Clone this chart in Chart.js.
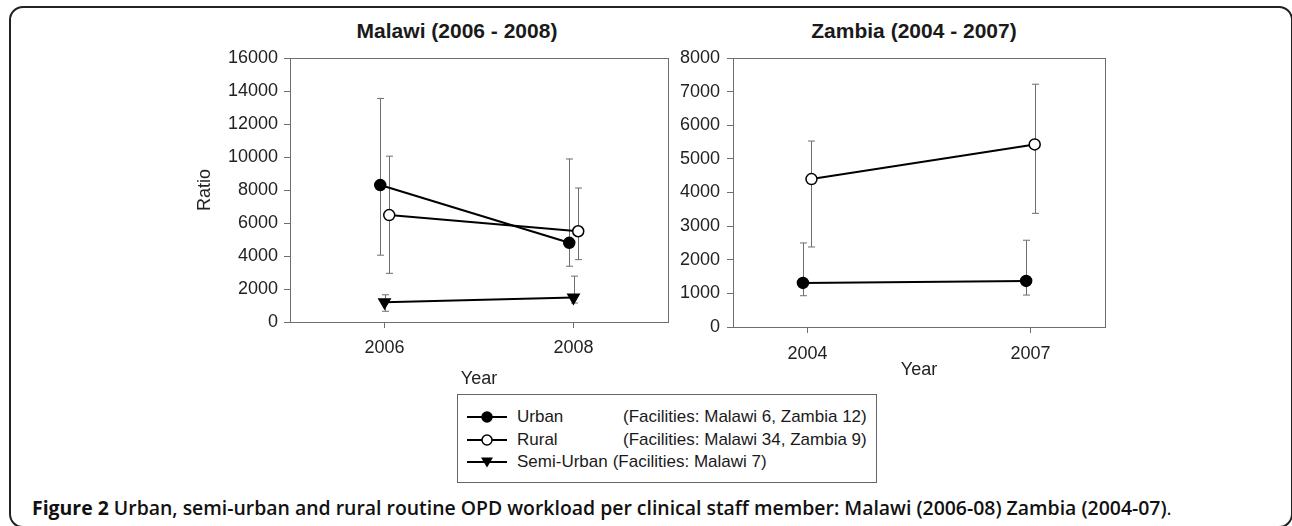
<!DOCTYPE html>
<html>
<head>
<meta charset="utf-8">
<title>OPD workload per clinical staff member</title>
<script src="https://cdn.jsdelivr.net/npm/chart.js@4.4.1/dist/chart.umd.min.js"></script>
<style>
  body {
    margin: 0;
    width: 1292px;
    height: 526px;
    overflow: hidden;
    position: relative;
    background: #fff;
    font-family: "Liberation Sans", Arial, sans-serif;
    color: #1a1a1a;
  }
  .frame {
    position: absolute;
    left: 9px;
    top: 6px;
    width: 1284px;
    height: 522px;
    border: 2px solid #222;
    border-radius: 14px;
    box-sizing: border-box;
  }
  .panel-title {
    position: absolute;
    top: 19px;
    width: 320px;
    text-align: center;
    font-weight: bold;
    font-size: 21px;
    line-height: 24px;
  }
  canvas { position: absolute; top: 0; }
  #malawiChart { left: 190px; }
  #zambiaChart { left: 670px; }
  .legend {
    position: absolute;
    left: 457px;
    top: 394px;
    width: 420px;
    height: 89px;
    border: 1px solid #666;
    box-sizing: border-box;
    padding-top: 11px;
    font-size: 17px;
  }
  .legend .row {
    display: flex;
    align-items: center;
    height: 22.5px;
    padding-left: 9px;
    white-space: nowrap;
  }
  .legend svg { margin-right: 10px; }
  .legend .name { display: inline-block; }
  .legend .name.fixed { width: 106px; }
  .legend .name.flow { margin-right: 5px; }
  .caption {
    position: absolute;
    left: 32px;
    top: 496px;
    font-family: "Open Sans", sans-serif;
    font-size: 17px;
    font-weight: 600;
    line-height: 24px;
    white-space: nowrap;
    color: #111;
  }
  .caption b { font-weight: 700; }
  .caption .dot { font-weight: 400; }
</style>
</head>
<body>
<div class="frame"></div>
<div class="panel-title" style="left:297px">Malawi (2006 - 2008)</div>
<div class="panel-title" style="left:754px">Zambia (2004 - 2007)</div>
<canvas id="malawiChart" width="578" height="390"></canvas>
<canvas id="zambiaChart" width="498" height="381"></canvas>
<div class="legend" id="legend"></div>
<div class="caption" id="caption"><b>Figure 2</b> Urban, semi-urban and rural routine OPD workload per clinical staff member: Malawi (2006-08) Zambia (2004-07)<span class="dot">.</span></div>

<script>
// series names and facility counts
const seriesNames = ["Urban", "Rural", "Semi-Urban"];
const facilityNotes = [
  "(Facilities: Malawi 6, Zambia 12)",
  "(Facilities: Malawi 34, Zambia 9)",
  "(Facilities: Malawi 7)"
];

// Malawi (2006 - 2008)
const malawiYears = [2006, 2008];
const malawiUrban = [8300, 4800];
const malawiUrbanHigh = [13550, 9880];
const malawiUrbanLow = [4050, 3380];
const malawiRural = [6480, 5500];
const malawiRuralHigh = [10050, 8120];
const malawiRuralLow = [2950, 3780];
const malawiSemi = [1200, 1480];
const malawiSemiHigh = [1650, 2780];
const malawiSemiLow = [650, 1150];

// Zambia (2004 - 2007)
const zambiaYears = [2004, 2007];
const zambiaUrban = [1310, 1370];
const zambiaUrbanHigh = [2500, 2580];
const zambiaUrbanLow = [930, 950];
const zambiaRural = [4400, 5430];
const zambiaRuralHigh = [5530, 7220];
const zambiaRuralLow = [2380, 3380];

Chart.defaults.font.family = '"Liberation Sans", Arial, sans-serif';
Chart.defaults.font.size = 18;
Chart.defaults.color = "#222";

const axisGrey = "#6e6e6e";

// whiskers behind the markers, plus the closed plot box
const errorBars = {
  id: "errorBars",
  beforeDatasetsDraw(chart) {
    const { ctx, chartArea } = chart;
    const yScale = chart.scales.y;
    ctx.save();
    ctx.strokeStyle = axisGrey;
    ctx.lineWidth = 1;
    ctx.strokeRect(chartArea.left + 0.5, chartArea.top + 0.5,
      chartArea.right - chartArea.left, chartArea.bottom - chartArea.top);
    chart.data.datasets.forEach((ds, i) => {
      const meta = chart.getDatasetMeta(i);
      meta.data.forEach((pt, j) => {
        const top = yScale.getPixelForValue(ds.errHigh[j]);
        const bottom = yScale.getPixelForValue(ds.errLow[j]);
        const x = Math.round(pt.x) + 0.5;
        ctx.beginPath();
        ctx.moveTo(x, top);
        ctx.lineTo(x, bottom);
        ctx.moveTo(x - 3.5, top);
        ctx.lineTo(x + 3.5, top);
        ctx.moveTo(x - 3.5, bottom);
        ctx.lineTo(x + 3.5, bottom);
        ctx.stroke();
      });
    });
    ctx.restore();
  }
};

const makeSeries = (years, values, high, low, shift, style) => ({
  data: years.map((yr, i) => ({ x: yr + shift, y: values[i] })),
  errHigh: high,
  errLow: low,
  borderColor: "#000",
  borderWidth: 2,
  tension: 0,
  pointRadius: style.radius,
  pointBorderWidth: 1.5,
  pointBorderColor: "#000",
  pointBackgroundColor: style.fill,
  pointStyle: style.shape,
  pointRotation: style.rotation || 0
});

const makeOptions = (years, xMin, xMax, yMax, yStep, opts) => ({
  responsive: false,
  animation: false,
  devicePixelRatio: 1,
  layout: { padding: { top: 58, right: opts.rightPad, left: 0, bottom: 0 } },
  plugins: { legend: { display: false }, tooltip: { enabled: false } },
  scales: {
    x: {
      type: "linear",
      min: xMin,
      max: xMax,
      afterBuildTicks: (scale) => {
        scale.ticks = years.map((v) => ({ value: v }));
      },
      afterFit: (scale) => { scale.height = opts.xHeight; },
      ticks: { padding: opts.xTickPad, callback: (v) => String(v), maxRotation: 0 },
      grid: { drawOnChartArea: false, tickLength: 6, color: axisGrey },
      border: { color: axisGrey },
      title: { display: true, text: "Year", padding: 0, font: { size: 18 } }
    },
    y: {
      min: 0,
      max: yMax,
      afterFit: (scale) => { scale.width = opts.yWidth; },
      ticks: { stepSize: yStep, padding: opts.yTickPad, callback: (v) => String(v) },
      grid: { drawOnChartArea: false, tickLength: 6, color: axisGrey },
      border: { color: axisGrey },
      title: {
        display: !!opts.yTitle,
        text: opts.yTitle || "",
        padding: { top: 4, bottom: 0 },
        font: { size: 18 }
      }
    }
  }
});

const filled = { fill: "#000", shape: "circle", radius: 5.5 };
const open = { fill: "#fff", shape: "circle", radius: 5.5 };
const triangleDown = { fill: "#000", shape: "triangle", radius: 6.5, rotation: 180 };

new Chart(document.getElementById("malawiChart"), {
  type: "line",
  data: {
    datasets: [
      makeSeries(malawiYears, malawiUrban, malawiUrbanHigh, malawiUrbanLow, -0.045, filled),
      makeSeries(malawiYears, malawiRural, malawiRuralHigh, malawiRuralLow, 0.05, open),
      makeSeries(malawiYears, malawiSemi, malawiSemiHigh, malawiSemiLow, 0, triangleDown)
    ]
  },
  options: makeOptions(malawiYears, 2005, 2009, 16000, 2000, {
    rightPad: 100, yWidth: 100, xHeight: 68, xTickPad: 9, yTickPad: 6, yTitle: "Ratio"
  }),
  plugins: [errorBars]
});

new Chart(document.getElementById("zambiaChart"), {
  type: "line",
  data: {
    datasets: [
      makeSeries(zambiaYears, zambiaUrban, zambiaUrbanHigh, zambiaUrbanLow, -0.06, filled),
      makeSeries(zambiaYears, zambiaRural, zambiaRuralHigh, zambiaRuralLow, 0.055, open)
    ]
  },
  options: makeOptions(zambiaYears, 2003, 2008, 8000, 1000, {
    rightPad: 63, yWidth: 63, xHeight: 54, xTickPad: 10, yTickPad: 7
  }),
  plugins: [errorBars]
});

// legend built from the series names
const legendIcons = [
  '<circle cx="20" cy="8" r="5" fill="#000" stroke="#000" stroke-width="1.5"/>',
  '<circle cx="20" cy="8" r="5" fill="#fff" stroke="#000" stroke-width="1.5"/>',
  '<polygon points="14,3.5 26,3.5 20,13.5" fill="#000"/>'
];
const legend = document.getElementById("legend");
seriesNames.forEach((name, i) => {
  const row = document.createElement("div");
  row.className = "row";
  const nameClass = i < 2 ? "name fixed" : "name flow";
  row.innerHTML = `
    <svg width="40" height="16"><line x1="0" y1="8" x2="40" y2="8" stroke="#000" stroke-width="2"/>${legendIcons[i]}</svg>
    <span class="${nameClass}">${name}</span><span>${facilityNotes[i]}</span>`;
  legend.appendChild(row);
});

// caption runs from x=32 to about x=1172 in the original figure
const caption = document.getElementById("caption");
const fitCaption = () => {
  const w = caption.getBoundingClientRect().width;
  caption.style.fontSize = (17 * 1140 / w).toFixed(2) + "px";
};
if (document.fonts && document.fonts.ready) {
  document.fonts.ready.then(fitCaption);
} else {
  fitCaption();
}
</script>
</body>
</html>
